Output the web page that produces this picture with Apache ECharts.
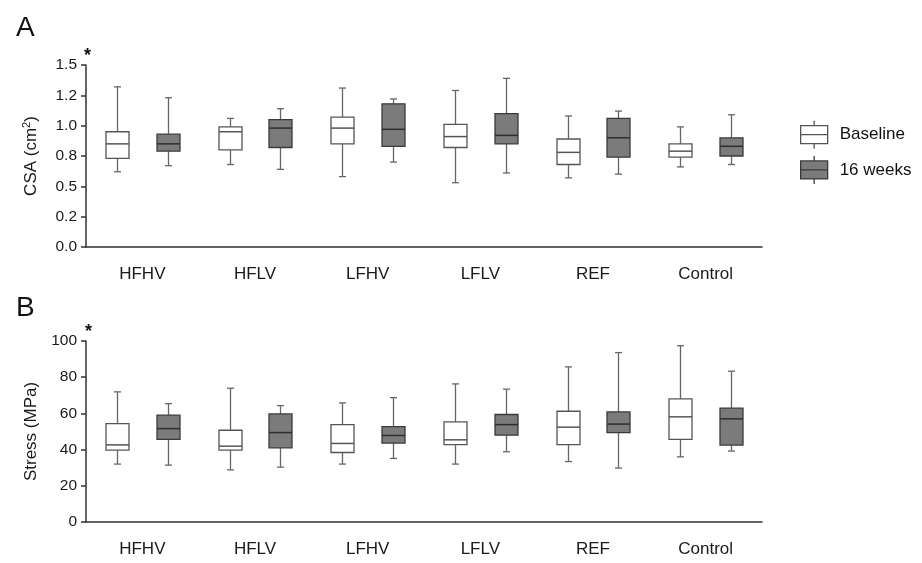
<!DOCTYPE html>
<html>
<head>
<meta charset="utf-8">
<script src="https://cdn.jsdelivr.net/npm/echarts@6/dist/echarts.min.js"></script>
<style>
  html, body { margin: 0; padding: 0; background: #fff; }
  #main { width: 922px; height: 563px; }
</style>
</head>
<body>
<div id="main"></div>
<script>
// groups on the x axis
const groups = ['HFHV', 'HFLV', 'LFHV', 'LFLV', 'REF', 'Control'];

// box values: [min, Q1, median, Q3, max]
const csaBaseline = [
  [0.62, 0.73, 0.85, 0.95, 1.32],
  [0.68, 0.80, 0.95, 0.99, 1.06],
  [0.58, 0.85, 0.98, 1.07, 1.31],
  [0.53, 0.82, 0.91, 1.01, 1.29],
  [0.57, 0.68, 0.78, 0.89, 1.08],
  [0.66, 0.74, 0.79, 0.85, 0.99]
];
const csaWeek16 = [
  [0.67, 0.79, 0.85, 0.93, 1.23],
  [0.64, 0.82, 0.98, 1.05, 1.14],
  [0.70, 0.83, 0.97, 1.18, 1.22],
  [0.61, 0.85, 0.92, 1.10, 1.39],
  [0.60, 0.74, 0.90, 1.06, 1.12],
  [0.68, 0.75, 0.83, 0.90, 1.09]
];
const stressBaseline = [
  [32.0, 39.7, 42.6, 54.4, 71.9],
  [28.8, 39.7, 41.9, 50.7, 73.9],
  [32.0, 38.4, 43.4, 53.8, 65.8],
  [32.0, 42.8, 45.4, 55.3, 76.3],
  [33.4, 42.8, 52.4, 61.2, 85.7],
  [36.0, 45.6, 58.1, 68.0, 97.4]
];
const stressWeek16 = [
  [31.4, 45.6, 51.6, 59.0, 65.4],
  [30.3, 41.0, 49.4, 59.7, 64.3],
  [35.1, 43.6, 47.8, 52.7, 68.7],
  [38.8, 48.0, 53.8, 59.4, 73.4],
  [29.8, 49.4, 54.1, 60.8, 93.6],
  [39.2, 42.5, 57.0, 62.9, 83.3]
];

// tick labels
const csaTicks = ['0.0', '0.2', '0.5', '0.8', '1.0', '1.2', '1.5'];
const stressTicks = ['0', '20', '40', '60', '80', '100'];

const FONT = 'Liberation Sans, Arial, sans-serif';
const styles = {
  Baseline: { fill: '#ffffff', border: '#555555', median: '#555555', whisker: '#666666', offset: -0.225 },
  '16 weeks': { fill: '#7b7b7b', border: '#3a3a3a', median: '#2e2e2e', whisker: '#666666', offset: 0.225 }
};

function toRows(list) {
  return list.map((d, i) => [i].concat(d));
}

function boxRenderer(name) {
  const st = styles[name];
  return function (params, api) {
    const idx = api.value(0);
    const band = api.size([1, 0])[0];
    const dx = band * st.offset;
    const boxW = 23, capW = 7;
    const pMin = api.coord([idx, api.value(1)]);
    const pQ1 = api.coord([idx, api.value(2)]);
    const pMed = api.coord([idx, api.value(3)]);
    const pQ3 = api.coord([idx, api.value(4)]);
    const pMax = api.coord([idx, api.value(5)]);
    const cx = Math.round(pMed[0] + dx) + 0.5;
    const lineStyle = { stroke: st.whisker, lineWidth: 1.3 };
    return {
      type: 'group',
      children: [
        { type: 'line', shape: { x1: cx, y1: pMax[1], x2: cx, y2: pQ3[1] }, style: lineStyle },
        { type: 'line', shape: { x1: cx, y1: pQ1[1], x2: cx, y2: pMin[1] }, style: lineStyle },
        { type: 'line', shape: { x1: cx - capW / 2, y1: pMax[1], x2: cx + capW / 2, y2: pMax[1] }, style: lineStyle },
        { type: 'line', shape: { x1: cx - capW / 2, y1: pMin[1], x2: cx + capW / 2, y2: pMin[1] }, style: lineStyle },
        { type: 'rect', shape: { x: cx - boxW / 2, y: pQ3[1], width: boxW, height: pQ1[1] - pQ3[1] },
          style: { fill: st.fill, stroke: st.border, lineWidth: 1.3 } },
        { type: 'line', shape: { x1: cx - boxW / 2, y1: pMed[1], x2: cx + boxW / 2, y2: pMed[1] },
          style: { stroke: st.median, lineWidth: 1.5 } }
      ]
    };
  };
}

function makeSeries(name, list, axisIdx) {
  return {
    name: name,
    type: 'custom',
    xAxisIndex: axisIdx,
    yAxisIndex: axisIdx,
    renderItem: boxRenderer(name),
    encode: { x: 0, y: [1, 2, 3, 4, 5] },
    itemStyle: { color: styles[name].fill, borderColor: styles[name].border, borderWidth: 1.3 },
    silent: true,
    data: toRows(list)
  };
}

const legendIcon = 'path://M0,5 L27,5 L27,23 L0,23 Z M0,14 L27,14 M13.5,0 L13.5,5 M13.5,23 L13.5,28';

const xAxisCommon = {
  type: 'category',
  data: groups,
  axisLine: { lineStyle: { color: '#333', width: 1.5 } },
  axisTick: { alignWithLabel: true, length: 6, lineStyle: { color: '#333', width: 1.5 } },
  axisLabel: { color: '#1a1a1a', fontSize: 17, fontFamily: FONT, margin: 19 },
  splitLine: { show: false }
};

function yAxisCommon(name, min, max, interval, ticks) {
  return {
    type: 'value',
    min: min,
    max: max,
    interval: interval,
    name: name,
    nameLocation: 'middle',
    nameGap: 45,
    nameTextStyle: {
      color: '#1a1a1a', fontSize: 17, fontFamily: FONT,
      rich: {
        n: { fontSize: 17, fontFamily: FONT, color: '#1a1a1a', lineHeight: 20 },
        sup: { fontSize: 11, fontFamily: FONT, color: '#1a1a1a', verticalAlign: 'top', lineHeight: 20, padding: [0, 0, 8, 0] }
      }
    },
    axisLine: { show: true, lineStyle: { color: '#333', width: 1.5 } },
    axisTick: { show: true, length: 5, lineStyle: { color: '#333', width: 1.5 } },
    axisLabel: {
      color: '#1a1a1a', fontSize: 15.5, fontFamily: FONT, margin: 9,
      formatter: function (v) { return ticks[Math.round((v - min) / interval)]; }
    },
    splitLine: { show: false }
  };
}

const chart = echarts.init(document.getElementById('main'), null, { renderer: 'canvas' });
chart.setOption({
  backgroundColor: '#ffffff',
  animation: false,
  title: [
    { text: 'A', left: 11, top: 9, textStyle: { fontSize: 28, fontWeight: 'normal', color: '#111', fontFamily: FONT } },
    { text: 'B', left: 11, top: 289, textStyle: { fontSize: 28, fontWeight: 'normal', color: '#111', fontFamily: FONT } },
    { text: '*', left: 79, top: 42, textStyle: { fontSize: 18, fontWeight: 'bold', color: '#111', fontFamily: FONT } },
    { text: '*', left: 80, top: 318, textStyle: { fontSize: 18, fontWeight: 'bold', color: '#111', fontFamily: FONT } }
  ],
  legend: {
    orient: 'vertical',
    left: 800,
    top: 120,
    padding: 0,
    itemWidth: 27,
    itemHeight: 28,
    itemGap: 6,
    selectedMode: false,
    textStyle: { color: '#111', fontSize: 17, fontFamily: FONT, padding: [0, 0, 0, 7] },
    data: [
      { name: 'Baseline', icon: legendIcon, itemStyle: { color: '#ffffff', borderColor: '#555555', borderWidth: 1.3 } },
      { name: '16 weeks', icon: legendIcon, itemStyle: { color: '#7b7b7b', borderColor: '#3a3a3a', borderWidth: 1.3 } }
    ]
  },
  grid: [
    { left: 86, right: 160, top: 65, height: 182 },
    { left: 86, right: 160, top: 341, height: 181 }
  ],
  xAxis: [
    Object.assign({ gridIndex: 0 }, xAxisCommon),
    Object.assign({ gridIndex: 1 }, xAxisCommon)
  ],
  yAxis: [
    Object.assign({ gridIndex: 0 }, yAxisCommon('{n|CSA (cm}{sup|2}{n|)}', 0, 1.5, 0.25, csaTicks)),
    Object.assign({ gridIndex: 1 }, yAxisCommon('Stress (MPa)', 0, 100, 20, stressTicks))
  ],
  series: [
    makeSeries('Baseline', csaBaseline, 0),
    makeSeries('16 weeks', csaWeek16, 0),
    makeSeries('Baseline', stressBaseline, 1),
    makeSeries('16 weeks', stressWeek16, 1)
  ]
});
</script>
</body>
</html>
